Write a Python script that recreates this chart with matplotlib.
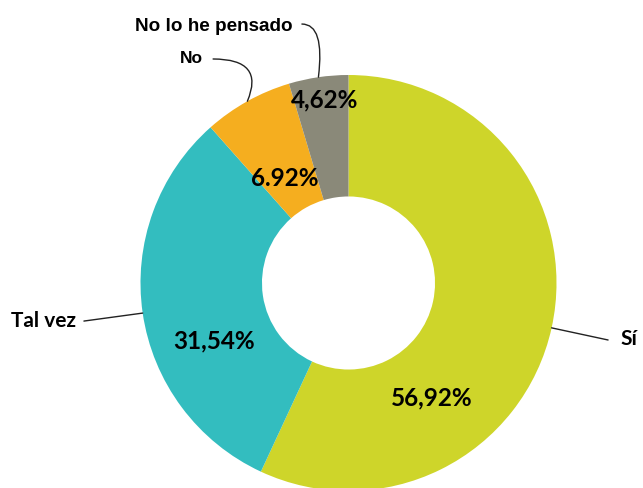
import matplotlib
matplotlib.use("Agg")
import matplotlib.pyplot as plt
import numpy as np

# Survey answers and their shares (%)
categories = ["Sí", "Tal vez", "No", "No lo he pensado"]
values = [56.92, 31.54, 6.92, 4.62]
value_labels = ["56,92%", "31,54%", "6.92%", "4,62%"]
colors = ["#CED52A", "#33BDBF", "#F5AE1F", "#8A8979"]

W, H, DPI = 643, 489, 100
fig = plt.figure(figsize=(W / DPI, H / DPI), dpi=DPI)
ax = fig.add_axes([0, 0, 1, 1])

# one data unit = outer radius
px = 208.0
cx, cy = 348.5, 284.0

hole = 0.416
wedges, _ = ax.pie(values, colors=colors, startangle=90, counterclock=False,
                   radius=1.0, wedgeprops=dict(width=1 - hole, linewidth=0),
                   center=(0, 0), frame=True)
ax.set_xlim(-cx / px, (W - cx) / px)
ax.set_ylim(-(H - cy) / px, cy / px)
ax.set_aspect("equal")
ax.axis("off")

# mid angle of each slice
mids = [(w.theta1 + w.theta2) / 2 for w in wedges]

# percentage labels: (angle offset from slice middle, radius)
pct_place = [(-41.5, 0.68), (14.5, 0.70), (2.0, 0.594), (-1.0, 0.892)]
for lab, m, (da, r) in zip(value_labels, mids, pct_place):
    a = np.deg2rad(m + da)
    ax.text(r * np.cos(a), r * np.sin(a), lab, ha="center", va="center",
            fontsize=17.5, fontweight="bold", family="Lato", color="black")

# category labels with leader lines
lab_font = [("Lato", 15), ("Lato", 15), ("Liberation Sans", 12.5), ("Liberation Sans", 13.6)]
leader_start = [(1.248, -0.274), (-1.272, -0.183), (-0.651, 1.077), (-0.224, 1.245)]
text_pos = [(1.31, -0.264, "left"), (-1.31, -0.178, "right"),
            (-0.70, 1.082, "right"), (-0.267, 1.240, "right")]
conn = ["arc3,rad=0", "arc3,rad=0",
        "angle3,angleA=0,angleB=67", "angle3,angleA=0,angleB=83"]
for cat, m, st, (tx, ty, ha), cs, (fam, fs) in zip(categories, mids, leader_start,
                                                   text_pos, conn, lab_font):
    a = np.deg2rad(m)
    ax.annotate("", xy=(np.cos(a), np.sin(a)), xytext=st,
                arrowprops=dict(arrowstyle="-", color="#222222", lw=1.0,
                                connectionstyle=cs, shrinkA=0, shrinkB=0))
    ax.text(tx, ty, cat, ha=ha, va="center", fontsize=fs, fontweight="bold",
            family=fam, color="black")

fig.savefig("out.png", dpi=DPI, facecolor="white")
